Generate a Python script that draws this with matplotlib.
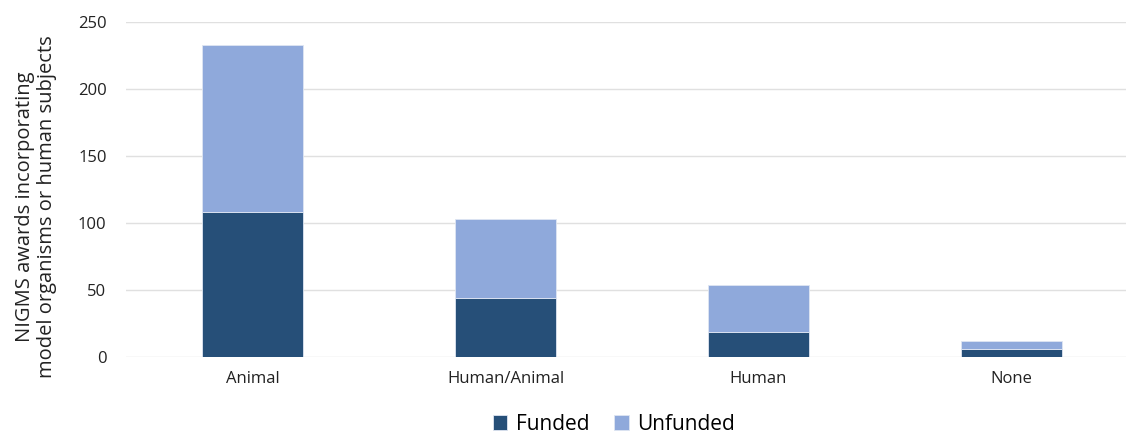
import matplotlib.pyplot as plt

plt.rcParams['font.family'] = ['Open Sans', 'DejaVu Sans']

categories = ['Animal', 'Human/Animal', 'Human', 'None']
funded = [108, 44, 19, 6]
unfunded = [125, 59, 35, 6]

col_funded = '#264F78'
col_unfunded = '#8FA9DB'

fig = plt.figure(figsize=(11.26, 4.34), dpi=100)
ax = fig.add_axes([0.1119, 0.1767, 0.8988, 0.7726])

x = range(len(categories))
ax.bar(x, funded, width=0.4, color=col_funded, edgecolor='#dfe6f2', linewidth=0.6,
       label='Funded', zorder=3)
ax.bar(x, unfunded, width=0.4, bottom=funded, color=col_unfunded, edgecolor='#dfe6f2',
       linewidth=0.6, label='Unfunded', zorder=3)

ax.set_xlim(-0.5, 3.5)
ax.set_ylim(0, 250)
ax.set_yticks([0, 50, 100, 150, 200, 250])
ax.set_xticks(list(x))
ax.set_xticklabels(categories)
ax.tick_params(axis='both', length=0, labelsize=12, colors='#222222')
ax.tick_params(axis='y', pad=14)
ax.tick_params(axis='x', pad=10)
ax.grid(axis='y', color='#e0e0e0', linewidth=1, zorder=0)
for s in ax.spines.values():
    s.set_visible(False)

ax.set_ylabel('NIGMS awards incorporating\nmodel organisms or human subjects',
              fontsize=14.5, color='#222222', linespacing=1.15)
ax.yaxis.set_label_coords(-0.068, 0.45)

fig.legend(loc='center', bbox_to_anchor=(0.545, 0.023), ncol=2, frameon=False,
           fontsize=15, handlelength=0.7, handleheight=0.7, handletextpad=0.4,
           columnspacing=1.2)

fig.savefig('out.png', dpi=100)
